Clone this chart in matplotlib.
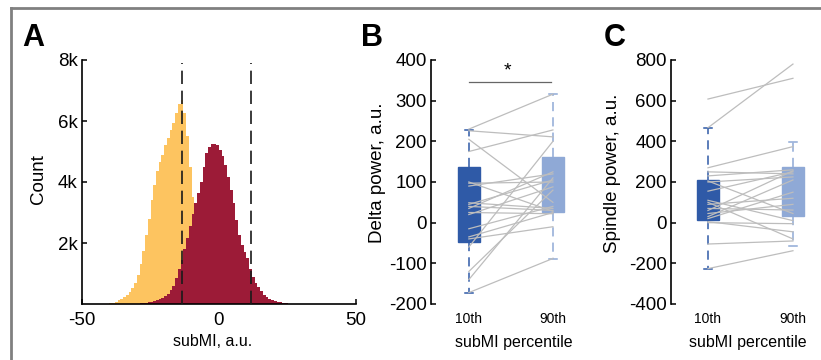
import numpy as np
import matplotlib
matplotlib.use("Agg")
import matplotlib.pyplot as plt
from matplotlib.lines import Line2D

plt.rcParams['font.family'] = ['Liberation Sans', 'DejaVu Sans']
plt.rcParams['axes.unicode_minus'] = False

# ---- panel A: subMI histograms (counts in thousands, 1 a.u. bins) ----
low_edges = np.arange(-40, -1)          # 38 bins, -40 .. -2
low_counts = [0.02, 0.04, 0.08, 0.12, 0.17, 0.23, 0.30, 0.38, 0.53, 0.70,
              0.95, 1.30, 1.75, 2.25, 2.80, 3.40, 3.90, 4.35, 4.65, 4.90,
              5.20, 5.45, 5.70, 5.95, 6.25, 6.55, 6.68, 6.25, 5.50, 4.50,
              3.50, 2.60, 1.80, 1.10, 0.60, 0.30, 0.12, 0.04]
all_edges = np.arange(-30, 27)          # 56 bins, -30 .. 26
all_counts = [0.01, 0.02, 0.03, 0.04, 0.06, 0.08, 0.11, 0.14, 0.17, 0.20,
              0.25, 0.33, 0.45, 0.60, 0.85, 1.15, 1.45, 1.80, 2.15, 2.55,
              2.95, 3.30, 3.65, 4.00, 4.50, 4.95, 5.15, 5.25, 5.25, 5.20,
              5.05, 4.85, 4.55, 4.15, 3.75, 3.30, 2.75, 2.25, 1.95, 1.70,
              1.50, 1.15, 0.90, 0.70, 0.55, 0.42, 0.30, 0.22, 0.15, 0.12,
              0.10, 0.08, 0.05, 0.03, 0.02, 0.01]
percentile_cuts = [-13.5, 11.7]

# ---- panels B, C: paired values per subject ----
groups = ['10th', '90th']
delta_10 = [230, 226, 205, 175, 97, 90, 49, 45, 40, 35,
            25, 20, -15, -35, -40, -60, -120, -140, -172, 100]
delta_90 = [316, 211, 50, 228, 100, 120, 35, 105, 30, 125,
            22, 88, 40, 25, -10, 200, 80, 110, -88, 28]
delta_box = [dict(med=40, q1=-48, q3=136, whislo=-174, whishi=228),
             dict(med=90, q1=27, q3=161, whislo=-90, whishi=316)]

spindle_10 = [608, 467, 270, 250, 230, 205, 200, 155, 110, 100,
              90, 70, 60, 45, 30, 20, 5, 0, -105, -226]
spindle_90 = [710, 780, 374, 240, 260, 45, 225, 250, 10, -80,
              120, 62, 255, 90, 210, 150, -45, -5, -90, -138]
spindle_box = [dict(med=95, q1=13, q3=210, whislo=-226, whishi=467),
               dict(med=150, q1=33, q3=275, whislo=-115, whishi=398)]

yellow = '#fdc460'
crimson = '#9c1b37'
dark_blue = '#2f5aa7'
light_blue = '#8fa9d6'
pair_gray = '#bdbdbd'

W, H = 821, 360
fig = plt.figure(figsize=(W / 100, H / 100), dpi=100)


def px_axes(left, top, right, bottom):
    return fig.add_axes([left / W, 1 - bottom / H, (right - left) / W, (bottom - top) / H])


def style(ax):
    for s in ['top', 'right']:
        ax.spines[s].set_visible(False)
    ax.spines['left'].set_linewidth(1.2)
    ax.spines['bottom'].set_linewidth(1.2)
    ax.tick_params(direction='in', length=3.5, width=1.1, labelsize=13.5, pad=3)


# A
axA = px_axes(82, 60, 356, 304)
style(axA)
axA.stairs(low_counts, low_edges, fill=True, color=yellow, zorder=1)
axA.stairs(all_counts, all_edges, fill=True, color=crimson, zorder=2)
axA.vlines(percentile_cuts, 0, 7.9, colors='#1a1a1a', linewidth=1.2,
           linestyles=(0, (8, 4)), zorder=3)
axA.set_xlim(-50, 50)
axA.set_ylim(0, 8)
axA.set_xticks([-50, 0, 50])
axA.set_yticks([2, 4, 6, 8])
axA.set_yticklabels(['2k', '4k', '6k', '8k'])
axA.tick_params(axis='x', pad=6)


def paired_panel(ax, v10, v90, box, ylim, yticks):
    style(ax)
    ax.spines['bottom'].set_visible(False)
    bp = ax.bxp(box, positions=[1, 2], widths=0.26, capwidths=0.1,
                showfliers=False, patch_artist=True,
                medianprops=dict(linewidth=0))
    for patch, c in zip(bp['boxes'], [dark_blue, light_blue]):
        patch.set_facecolor(c)
        patch.set_edgecolor(c)
        patch.set_zorder(1)
    for i, (wl, cp) in enumerate(zip(bp['whiskers'], bp['caps'])):
        c = [dark_blue, light_blue][i // 2]
        wl.set_color(c)
        wl.set_linestyle((0, (6, 4)))
        wl.set_linewidth(1.1)
        cp.set_color(c)
        cp.set_linewidth(1.1)
    for a, b in zip(v10, v90):
        ax.plot([1, 2], [a, b], color=pair_gray, linewidth=0.9, zorder=3)
    ax.set_ylim(*ylim)
    ax.set_yticks(yticks)
    ax.set_xticks([1, 2])
    ax.set_xticklabels(groups)
    ax.tick_params(axis='x', length=0, labelsize=10, pad=6)


axB = px_axes(431, 60, 600, 304)
paired_panel(axB, delta_10, delta_90, delta_box, (-200, 400),
             [-200, -100, 0, 100, 200, 300, 400])
axB.set_xlim(0.55, 2.56)
axB.plot([1.0, 1.98], [347, 347], color='#666666', linewidth=0.9)
axB.text(1.46, 372, '*', ha='center', va='center', fontsize=14)

axC = px_axes(671, 60, 821, 304)
paired_panel(axC, spindle_10, spindle_90, spindle_box, (-400, 800),
             [-400, -200, 0, 200, 400, 600, 800])
axC.set_xlim(0.565, 2.33)

# axis labels
fig.text(38 / W, 1 - 179 / H, 'Count', rotation=90, ha='center', va='center', fontsize=13.5)
fig.text(213 / W, 1 - 342 / H, 'subMI, a.u.', ha='center', va='center', fontsize=11.5)
fig.text(377 / W, 1 - 173 / H, 'Delta power, a.u.', rotation=90, ha='center', va='center', fontsize=13.5)
fig.text(514 / W, 1 - 342 / H, 'subMI percentile', ha='center', va='center', fontsize=11.5)
fig.text(612 / W, 1 - 173 / H, 'Spindle power, a.u.', rotation=90, ha='center', va='center', fontsize=13.5)
fig.text(748 / W, 1 - 342 / H, 'subMI percentile', ha='center', va='center', fontsize=11.5)

# panel letters
for x, lab in [(22, 'A'), (361, 'B'), (604, 'C')]:
    fig.text(x / W, 1 - 46 / H, lab, ha='left', va='baseline', fontsize=22, fontweight='bold')

# frame edges
fig.add_artist(Line2D([11 / W, 11 / W], [0, 1 - 8 / H], transform=fig.transFigure,
                      color='#808080', linewidth=2))
fig.add_artist(Line2D([11 / W, 1], [1 - 8 / H, 1 - 8 / H], transform=fig.transFigure,
                      color='#808080', linewidth=2))

fig.savefig('out.png', dpi=100)
